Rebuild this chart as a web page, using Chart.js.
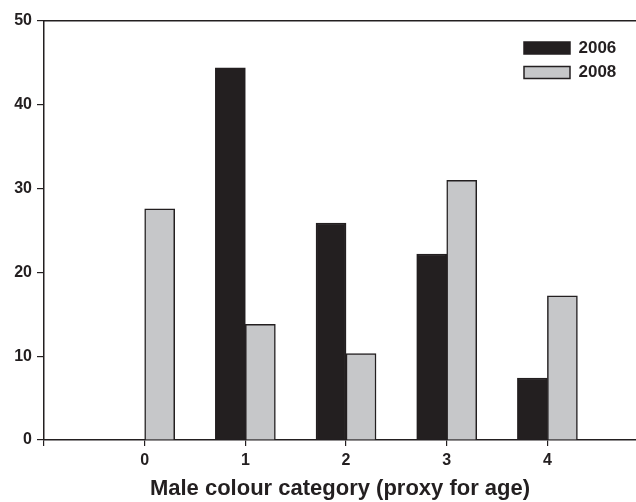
<!DOCTYPE html>
<html>
<head>
<meta charset="utf-8">
<script src="https://cdn.jsdelivr.net/npm/chart.js@4"></script>
<style>
  html, body { margin: 0; padding: 0; background: #fff; }
  #wrap { width: 636px; height: 502px; }
</style>
</head>
<body>
<div id="wrap"><canvas id="canvas"></canvas></div>
<script>
// categories (male colour category) and percentages per year
var categories = [0, 1, 2, 3, 4];
var values2006 = [0, 44.4, 25.9, 22.2, 7.4];
var values2008 = [27.6, 13.8, 10.3, 31.0, 17.2];
var yTicks = [0, 10, 20, 30, 40, 50];

var ink = '#231f20';
Chart.defaults.font.family = "'Liberation Sans', Arial, sans-serif";
Chart.defaults.font.weight = 'bold';
Chart.defaults.color = ink;

function toPoints(vals) {
    return categories.map((c, i) => ({ x: c, y: vals[i] }));
}

// moves the legend into the top right corner of the plot
var legendCorner = {
    id: 'legendCorner',
    afterLayout(chart) {
        var lg = chart.legend;
        var w = lg.width, h = lg.height;
        lg.left = 516.5; lg.right = lg.left + w;
        lg.top = 32; lg.bottom = lg.top + h;
    }
};

var chart = new Chart(document.getElementById('canvas'), {
    type: 'bar',
    data: {
        datasets: [{
            label: '2006',
            data: toPoints(values2006),
            backgroundColor: ink,
            borderColor: ink,
            borderWidth: 1.5,
            barThickness: 30
        }, {
            label: '2008',
            data: toPoints(values2008),
            backgroundColor: '#c6c7c9',
            borderColor: ink,
            borderWidth: 1.5,
            barThickness: 30
        }]
    },
    plugins: [legendCorner],
    options: {
        responsive: true,
        maintainAspectRatio: false,
        animation: false,
        layout: { padding: { left: 0, right: 0, top: 21, bottom: 0 } },
        plugins: {
            tooltip: { enabled: false },
            legend: {
                position: 'chartArea',
                align: 'start',
                labels: {
                    boxWidth: 46,
                    boxHeight: 12,
                    padding: 7.5,
                    font: { size: 17, weight: 'bold' },
                    color: ink
                }
            }
        },
        scales: {
            x: {
                type: 'linear',
                min: -1,
                max: 4.88,
                offset: false,
                afterBuildTicks: (s) => { s.ticks = [-1, 0, 1, 2, 3, 4].map(v => ({ value: v })); },
                afterFit: (s) => { s.height = 62; },
                grid: { offset: false, drawOnChartArea: false, tickLength: 6, color: ink, lineWidth: 1.2 },
                border: { color: ink, width: 1.5 },
                ticks: {
                    padding: 5,
                    font: { size: 16, weight: 'bold' },
                    callback: (v) => v < 0 ? '' : v
                },
                title: {
                    display: true,
                    text: 'Male colour category (proxy for age)',
                    font: { size: 22, weight: 'bold' },
                    padding: { top: 4, bottom: 0 }
                }
            },
            x2: {
                type: 'linear',
                position: 'top',
                min: -1,
                max: 4.88,
                offset: false,
                afterFit: (s) => { s.height = 0; },
                grid: { display: false },
                ticks: { display: false },
                border: { color: ink, width: 1.5 }
            },
            y: {
                min: 0,
                max: 50,
                afterBuildTicks: (s) => { s.ticks = yTicks.map(v => ({ value: v })); },
                afterFit: (s) => { s.width = 44; },
                grid: { drawOnChartArea: false, tickLength: 7, color: ink, lineWidth: 1.2 },
                border: { color: ink, width: 1.5 },
                ticks: { padding: 5, font: { size: 16, weight: 'bold' } }
            }
        }
    }
});
</script>
</body>
</html>
